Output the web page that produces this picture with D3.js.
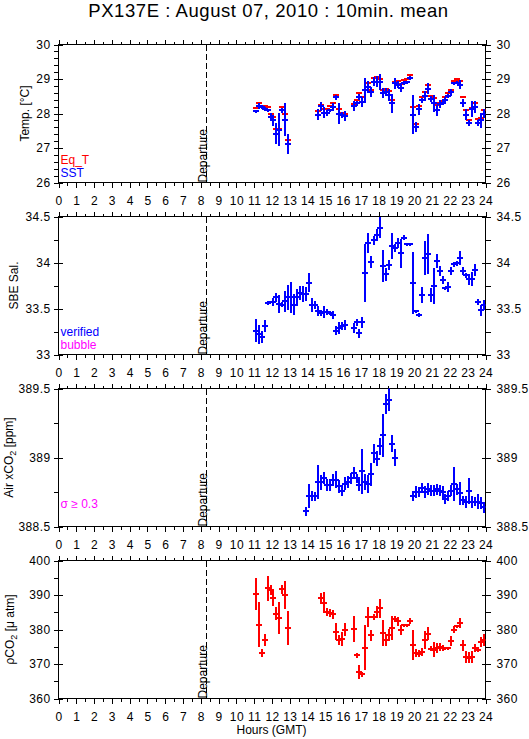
<!DOCTYPE html>
<html><head><meta charset="utf-8">
<script src="https://cdn.jsdelivr.net/npm/d3@7"></script>
<style>
body{margin:0;background:#fff}
svg{display:block}
text{font-family:"Liberation Sans",Arial,Helvetica,sans-serif}
</style>
</head><body>
<svg id="c" width="529" height="739"></svg>
<script>
// ---------------- DATA ----------------
const titleText = "PX137E : August 07, 2010 : 10min. mean";
const hourTicks = [0,1,2,3,4,5,6,7,8,9,10,11,12,13,14,15,16,17,18,19,20,21,22,23,24];
const departureTime = "08:20";

const tempDomain = [26, 30];
const tempTicks = [26, 27, 28, 29, 30];
const salDomain = [33, 34.5];
const salTicks = [33, 33.5, 34, 34.5];
const airDomain = [388.5, 389.5];
const airTicks = [388.5, 389, 389.5];
const pco2Domain = [360, 400];
const pco2Ticks = [360, 370, 380, 390, 400];

const tempTimes = ["11:05","11:15","11:25","11:35","11:45","11:55","12:05","12:15","12:25","12:35","12:45","12:55",
"14:35","14:45","14:55","15:05","15:15","15:25","15:35","15:45","15:55","16:05",
"16:35","16:45","16:55",
"17:05","17:15","17:25","17:35","17:45","17:55",
"18:05","18:15","18:25","18:35","18:45","18:55",
"19:05","19:15","19:25","19:35","19:45","19:55",
"20:05","20:15","20:25","20:35","20:45","20:55",
"21:05","21:15","21:25","21:35","21:45","21:55",
"22:05","22:15","22:25","22:35","22:45","22:55",
"23:05","23:15","23:25","23:35","23:45","23:55"];
const sst = [28.06,28.21,28.18,28.12,28.09,27.90,27.80,27.41,27.53,28.09,27.82,27.12,
27.97,28.21,28.02,28.01,28.09,28.19,28.47,27.99,27.95,27.93,
28.21,28.29,28.48,
28.33,28.67,28.77,28.62,28.92,28.92,
28.92,28.60,28.62,28.53,28.29,28.87,
28.84,28.75,28.89,28.90,29.03,27.97,
27.61,28.12,28.38,28.51,28.72,28.41,
28.29,28.09,28.27,28.31,28.40,28.50,
28.61,28.87,28.89,28.84,28.31,27.97,
27.72,28.14,28.19,27.73,27.80,27.99];
const sstSd = [0.03,0.07,0.04,0.04,0.04,0.11,0.15,0.29,0.46,0.05,0.46,0.27,
0.15,0.12,0.14,0.07,0.04,0.11,0.06,0.29,0.08,0.13,
0.13,0.07,0.06,
0.13,0.34,0.15,0.13,0.11,0.15,
0.22,0.13,0.10,0.16,0.27,0.15,
0.10,0.12,0.04,0.03,0.05,0.56,
0.12,0.14,0.05,0.14,0.15,0.07,
0.22,0.15,0.10,0.05,0.05,0.04,
0.10,0.03,0.03,0.12,0.11,0.15,
0.08,0.22,0.17,0.07,0.20,0.12];
const eqT = [28.17,28.30,28.22,28.21,28.20,27.99,27.90,27.56,27.55,28.20,28.00,27.24,
28.06,28.26,28.12,28.12,28.21,28.29,28.55,28.14,28.01,27.99,
28.27,28.38,28.58,
28.48,28.69,28.89,28.67,29.03,29.05,
28.99,28.69,28.72,28.64,28.40,28.92,
28.94,28.85,28.98,29.01,29.13,28.18,
27.70,28.21,28.47,28.61,28.84,28.51,
28.46,28.24,28.30,28.37,28.48,28.60,
28.67,28.94,29.01,28.94,28.48,28.09,
27.82,28.17,28.31,27.85,27.87,28.09];

const salTimes = ["11:05","11:15","11:25","11:35","11:45","11:55",
"12:05","12:15","12:25","12:35","12:45","12:55",
"13:05","13:15","13:25","13:35","13:45","13:55",
"14:05","14:15","14:25","14:35","14:45","14:55",
"15:05","15:15","15:25","15:35","15:45","15:55",
"16:05",
"16:35","16:45","16:55",
"17:05","17:15","17:25","17:35","17:45","17:55",
"18:05","18:15","18:25","18:35","18:45","18:55",
"19:05","19:15","19:25","19:35","19:45","19:55",
"20:05","20:15","20:25","20:35","20:45","20:55",
"21:05","21:15","21:25","21:35","21:45","21:55",
"22:05","22:15","22:25","22:35","22:45","22:55",
"23:05","23:15","23:25","23:35","23:45","23:55"];
const sal = [33.26,33.22,33.19,33.31,33.56,33.57,
33.57,33.62,33.55,33.54,33.58,33.62,
33.62,33.54,33.62,33.67,33.66,33.66,
33.78,33.54,33.54,33.47,33.45,33.46,
33.46,33.45,33.43,33.26,33.29,33.31,
33.32,
33.29,33.35,33.23,
33.35,33.89,34.21,34.01,34.24,34.30,
34.38,33.96,33.87,33.97,34.18,34.16,
34.21,34.10,34.27,34.20,34.20,33.78,
33.47,33.43,33.65,34.05,34.09,33.65,
33.74,34.02,33.91,33.81,33.72,33.73,
33.91,33.98,33.99,34.05,33.91,33.86,
33.82,33.82,33.92,33.57,33.48,33.54];
const salSd = [0.12,0.10,0.06,0.06,0.015,0.01,
0.04,0.045,0.09,0.02,0.11,0.13,
0.16,0.11,0.09,0.07,0.08,0.07,
0.10,0.07,0.04,0.05,0.03,0.06,
0.03,0.02,0.04,0.04,0.06,0.04,
0.05,
0.05,0.03,0.04,
0.055,0.31,0.10,0.06,0.04,0.06,
0.11,0.17,0.07,0.05,0.14,0.04,
0.05,0.15,0.02,0.01,0.01,0.33,
0.01,0.02,0.08,0.18,0.21,0.07,
0.19,0.07,0.05,0.04,0.01,0.05,
0.04,0.025,0.02,0.07,0.04,0.02,
0.055,0.07,0.06,0.03,0.055,0.05];

const airTimes = ["13:55",
"14:05","14:15","14:25","14:35","14:45","14:55",
"15:05","15:15","15:25","15:35","15:45","15:55",
"16:05","16:15","16:25","16:35","16:45","16:55",
"17:05","17:15","17:25","17:35","17:45","17:55",
"18:05","18:15","18:25","18:35","18:45","18:55",
"19:55",
"20:05","20:15","20:25","20:35","20:45","20:55",
"21:05","21:15","21:25","21:35","21:45","21:55",
"22:05","22:15","22:25","22:35","22:45","22:55",
"23:05","23:15","23:25","23:35","23:45","23:55"];
const air = [388.61,
388.72,388.72,388.72,388.82,388.82,388.85,
388.80,388.80,388.84,388.84,388.79,388.76,
388.81,388.82,388.85,388.89,388.85,388.80,
388.90,388.82,388.81,388.88,389.03,388.99,
389.08,389.16,389.39,389.42,389.10,389.00,
388.72,
388.75,388.75,388.78,388.75,388.77,388.76,
388.76,388.77,388.76,388.75,388.70,388.72,
388.76,388.81,388.77,388.74,388.69,388.68,
388.76,388.68,388.68,388.68,388.67,388.64];
const airSd = [0.03,
0.085,0.035,0.03,0.12,0.05,0.04,
0.04,0.04,0.04,0.06,0.04,0.035,
0.045,0.04,0.035,0.04,0.03,0.04,
0.16,0.055,0.06,0.08,0.065,0.05,
0.055,0.15,0.07,0.08,0.06,0.06,
0.035,
0.04,0.035,0.035,0.04,0.04,0.035,
0.035,0.035,0.035,0.04,0.035,0.035,
0.035,0.12,0.035,0.08,0.03,0.04,
0.09,0.04,0.03,0.05,0.04,0.035];

const pco2Times = ["11:05","11:15","11:25","11:35","11:45","11:55",
"12:05","12:15","12:25","12:35","12:45","12:55",
"14:45","14:55",
"15:05","15:15","15:25","15:35","15:45","15:55",
"16:05",
"16:35","16:45","16:55",
"17:05","17:15","17:25","17:35","17:45","17:55",
"18:05","18:15","18:25","18:35","18:45","18:55",
"19:05","19:15","19:25","19:35","19:45","19:55",
"20:05","20:15","20:25","20:35","20:45","20:55",
"21:05","21:15","21:25","21:35","21:45","21:55",
"22:05","22:15","22:25","22:35","22:45","22:55",
"23:05","23:15","23:25","23:35","23:45","23:55"];
const pco2 = [390.4,381.4,373.2,377.0,391.9,391.4,
389.0,384.6,383.4,391.6,390.1,380.5,
389.0,387.8,
385.1,384.8,384.4,379.3,377.0,377.3,
380.0,
380.2,372.5,367.7,
367.0,374.7,383.6,378.3,383.6,385.1,
386.1,379.0,377.0,378.3,380.5,383.1,
382.4,379.8,381.2,381.2,382.4,375.6,
373.3,373.0,373.5,376.9,378.8,374.4,
374.2,374.7,374.9,374.7,374.6,374.6,
376.7,380.0,380.9,381.9,375.4,372.0,
371.8,372.0,374.7,374.1,376.4,377.0];
const pco2Sd = [4.5,6.4,1.1,1.6,3.5,1.3,
2.1,1.8,4.5,1.1,3.9,4.8,
1.4,2.8,
1.1,0.9,1.1,2.3,1.3,1.9,
1.7,
3.6,0.5,1.9,
0.5,6.4,2.7,1.5,0.8,1.6,
2.5,3.6,1.5,1.6,3.4,0.7,
1.2,1.3,0.3,0.3,0.7,4.2,
1.0,0.9,1.0,2.4,1.7,0.6,
1.9,1.3,1.1,0.8,0.3,0.3,
1.3,1.0,0.3,1.3,1.4,1.6,
1.5,1.7,1.0,0.6,1.4,1.6];

// ---------------- DRAW ----------------
const RED = "#ff0000", BLUE = "#0000ff", MAG = "#ff00ff";
const svg = d3.select("#c");
const X0 = 58.5, X1 = 485.5, PH = 138;
const x = d3.scaleLinear().domain([0, 24]).range([X0, X1]);
const toH = s => { const [h, m] = s.split(":").map(Number); return h + m / 60; };
const halfHours = d3.range(0, 24.01, 0.5).filter(v => v % 1 !== 0);
const fmt = v => String(v);

svg.append("text").attr("x", 268.5).attr("y", 16.7).attr("text-anchor", "middle")
  .style("font-size", "18.5px").style("letter-spacing", "0.55px").text(titleText);

const panels = [
  {top: 44.5,  domain: tempDomain, ticks: tempTicks, minorStep: 0.2, labelX: 28.5},
  {top: 216.5, domain: salDomain,  ticks: salTicks,  minorStep: 0.25, labelX: 17.5},
  {top: 388.5, domain: airDomain,  ticks: airTicks,  minorStep: 0.25, labelX: 13},
  {top: 560.5, domain: pco2Domain, ticks: pco2Ticks, minorStep: 5, labelX: 14}
];

function styleAxis(sel) {
  sel.select(".domain").remove();
  sel.selectAll("line").attr("stroke", "#000").attr("shape-rendering", "crispEdges");
  sel.selectAll("text").attr("fill", "#000").style("font-size", "12px")
     .style("font-family", '"Liberation Sans",Arial,sans-serif').style("letter-spacing", "0.4px");
}

panels.forEach((p, i) => {
  const g = svg.append("g");
  const bottom = p.top + PH;
  const y = d3.scaleLinear().domain(p.domain).range([bottom, p.top]);
  p.y = y; p.g = g; p.bottom = bottom;
  const minor = d3.range(p.domain[0], p.domain[1] + 1e-9, p.minorStep);

  // left
  g.append("g").attr("transform", `translate(${X0},0)`)
    .call(d3.axisLeft(y).tickValues(minor).tickSize(5).tickFormat("")).call(styleAxis);
  g.append("g").attr("transform", `translate(${X0},0)`)
    .call(d3.axisLeft(y).tickValues(p.ticks).tickSize(5).tickPadding(3).tickFormat(fmt)).call(styleAxis);
  g.append("g").attr("transform", `translate(${X0},0)`)
    .call(d3.axisRight(y).tickValues(p.ticks).tickSize(4).tickFormat("")).call(styleAxis);
  // right
  g.append("g").attr("transform", `translate(${X1},0)`)
    .call(d3.axisRight(y).tickValues(minor).tickSize(5).tickFormat("")).call(styleAxis);
  g.append("g").attr("transform", `translate(${X1},0)`)
    .call(d3.axisRight(y).tickValues(p.ticks).tickSize(5).tickPadding(6).tickFormat(fmt)).call(styleAxis);
  g.append("g").attr("transform", `translate(${X1},0)`)
    .call(d3.axisLeft(y).tickValues(p.ticks).tickSize(4).tickFormat("")).call(styleAxis);
  // top
  g.append("g").attr("transform", `translate(0,${p.top})`)
    .call(d3.axisTop(x).tickValues(hourTicks).tickSize(5).tickFormat("")).call(styleAxis);
  g.append("g").attr("transform", `translate(0,${p.top})`)
    .call(d3.axisTop(x).tickValues(halfHours).tickSize(3).tickFormat("")).call(styleAxis);
  // bottom
  g.append("g").attr("transform", `translate(0,${bottom})`)
    .call(d3.axisBottom(x).tickValues(halfHours).tickSize(3).tickFormat("")).call(styleAxis);
  g.append("g").attr("transform", `translate(0,${bottom})`)
    .call(d3.axisBottom(x).tickValues(hourTicks).tickSize(5).tickPadding(9).tickFormat(fmt)).call(styleAxis);

  // frame
  g.append("rect").attr("x", X0).attr("y", p.top).attr("width", X1 - X0).attr("height", PH)
    .attr("fill", "none").attr("stroke", "#000").attr("stroke-width", 1)
    .attr("shape-rendering", "crispEdges");

  // departure
  const xd = x(toH(departureTime));
  g.append("line").attr("x1", xd).attr("x2", xd).attr("y1", p.top).attr("y2", bottom)
    .attr("stroke", "#000").attr("stroke-width", 1).attr("stroke-dasharray", "6,3")
    .attr("shape-rendering", "crispEdges");
  g.append("text").attr("transform", `translate(${xd + 0.5},${bottom}) rotate(-90)`)
    .style("font-size", "12px").text("Departure");

  // clip
  g.append("clipPath").attr("id", "clip" + i).append("rect")
    .attr("x", X0).attr("y", p.top).attr("width", X1 - X0).attr("height", PH);
  p.plot = g.append("g").attr("clip-path", `url(#clip${i})`);
});

// y labels: parts = [text, baselineShift]
function ylabel(p, parts) {
  const t = svg.append("text")
    .attr("transform", `translate(${p.labelX},${p.top + PH / 2}) rotate(-90)`)
    .attr("text-anchor", "middle").style("font-size", "12px");
  let prev = 0;
  parts.forEach(([s, shift]) => {
    const sp = t.append("tspan").attr("dy", shift - prev).text(s);
    if (shift) sp.style("font-size", "9px");
    prev = shift;
  });
}
ylabel(panels[0], [["Temp. [°C]", 0]]);
ylabel(panels[1], [["SBE Sal.", 0]]);
ylabel(panels[2], [["Air xCO", 0], ["2", 3], [" [ppm]", 0]]);
ylabel(panels[3], [["ρCO", 0], ["2", 3], [" [μ atm]", 0]]);

svg.append("text").attr("x", 271.5).attr("y", 734).attr("text-anchor", "middle")
  .style("font-size", "12px").text("Hours (GMT)");

// legends
function legend(x0, y0, txt, col) {
  svg.append("text").attr("x", x0).attr("y", y0).attr("fill", col).style("font-size", "12px").text(txt);
}
legend(60.5, 163.5, "Eq_T", RED);
legend(60.5, 176.5, "SST", BLUE);
legend(60.5, 336, "verified", BLUE);
legend(60.5, 349, "bubble", MAG);
legend(60.5, 508, "σ ≥ 0.3", MAG);

// marks
const HW = 3;
function crosses(p, times, vals, sds, col, withV) {
  const pts = times.map((t, k) => ({t: toH(t), v: vals[k], s: sds ? sds[k] : 0}));
  const gg = p.plot.append("g").attr("stroke", col).attr("stroke-width", 2)
    .attr("shape-rendering", "crispEdges");
  gg.selectAll("line.h").data(pts).join("line").attr("class", "h")
    .attr("x1", d => x(d.t) - HW).attr("x2", d => x(d.t) + HW)
    .attr("y1", d => p.y(d.v)).attr("y2", d => p.y(d.v));
  if (withV) {
    gg.selectAll("line.v").data(pts).join("line").attr("class", "v")
      .attr("x1", d => x(d.t)).attr("x2", d => x(d.t))
      .attr("y1", d => p.y(d.v - d.s) + 0.5).attr("y2", d => p.y(d.v + d.s) - 0.5);
  }
}
crosses(panels[0], tempTimes, eqT, null, RED, false);
crosses(panels[0], tempTimes, sst, sstSd, BLUE, true);
crosses(panels[1], salTimes, sal, salSd, BLUE, true);
crosses(panels[2], airTimes, air, airSd, BLUE, true);
crosses(panels[3], pco2Times, pco2, pco2Sd, RED, true);
</script>
</body></html>
